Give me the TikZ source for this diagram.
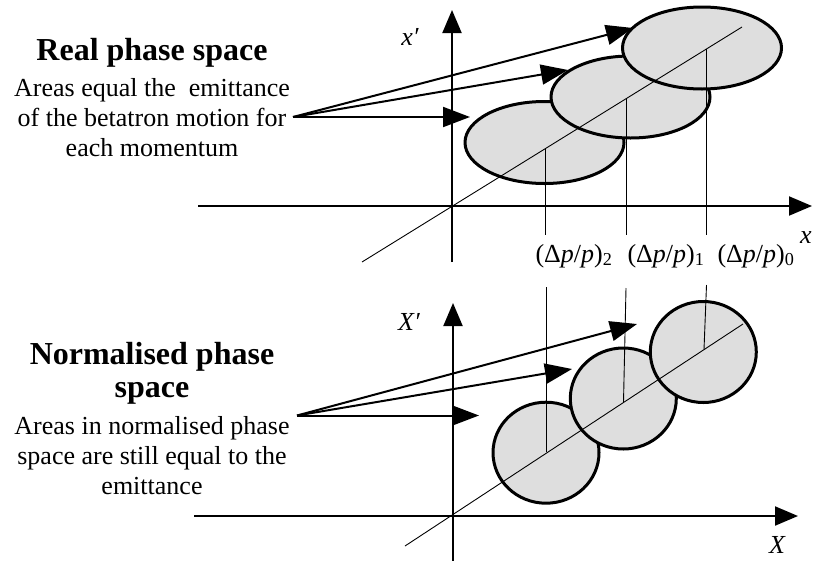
\documentclass[tikz,border=0pt]{standalone}
\usepackage{fontspec}
\setmainfont{Liberation Serif}
\usetikzlibrary{arrows.meta,positioning}

\definecolor{spotgrey}{RGB}{222,222,222}

\tikzset{
  axis/.style={line width=2pt, -{Triangle[length=23pt,width=19pt]}},
  pointer/.style={line width=2pt, -{Triangle[length=27pt,width=20pt]}},
  spot/.style={draw, fill=spotgrey, line width=3pt},
  guide/.style={line width=0.9pt},
  heading/.style={font=\fontsize{32}{33}\selectfont\bfseries, align=center},
  blurb/.style={font=\fontsize{26}{30}\selectfont, align=center},
  axlabel/.style={font=\fontsize{26}{30}\selectfont\itshape},
  momlabel/.style={font=\fontsize{26}{30}\selectfont}
}

\begin{document}
\begin{tikzpicture}[x=1pt, y=-1pt]
\useasboundingbox (0,0) rectangle (813,560);

% ---- real phase space ----
\node[heading] (realtitle) at (152,53) {Real phase space};
\node[blurb] (realtext) at (152,118) {Areas equal the\ \ emittance\\of the betatron motion for\\each momentum};

\draw[axis] (198,206) -- (812,206);
\draw[axis] (452,262) -- (452,10);
\node[axlabel] (xlab) at (806,238) {x};
\node[axlabel] (xplab) at (410,37) {x′};

\foreach \name/\cx/\cy in {e2/544.5/142.5, e1/630.5/97, e0/702/48}{
  \coordinate (\name) at (\cx,\cy);
  \draw[spot] (\name) ellipse [x radius=79.5, y radius=41];
}
\draw[guide] (362,262) -- (742,27);

\node[momlabel] (dp2) at (574,256) {(Δ\textit{p}/\textit{p})\textsubscript{2}};
\node[momlabel] (dp1) at (666,256) {(Δ\textit{p}/\textit{p})\textsubscript{1}};
\node[momlabel] (dp0) at (756,256) {(Δ\textit{p}/\textit{p})\textsubscript{0}};

\coordinate (r2) at (545,148.8);
\coordinate (r1) at (626,98.7);
\coordinate (r0) at (706.5,49);
\coordinate (rtick) at (0,235);
\foreach \p in {r2,r1,r0}
  \draw[guide] (\p) -- (\p |- rtick);

\coordinate (realfrom) at (293,117);
\coordinate (realto0) at (633,28);
\coordinate (realto1) at (568,70);
\coordinate (realto2) at (470,117);
\foreach \t in {realto0,realto1,realto2}
  \draw[pointer] (realfrom) -- (\t);

% ---- normalised phase space ----
\node[heading] (normtitle) at (152,373) {Normalised phase\\space};
\node[blurb] (normtext) at (152,456) {Areas in normalised phase\\space are still equal to the\\emittance};

\draw[axis] (194,516) -- (798,516);
\draw[axis] (453,565) -- (453,303);
\node[axlabel] (Xlab) at (777,545) {X};
\node[axlabel] (Xplab) at (409,322) {X′};

\foreach \name/\cx/\cy in {c2/546/452.7, c1/623.3/398.5, c0/703.3/352}{
  \coordinate (\name) at (\cx,\cy);
  \draw[spot] (\name) ellipse [x radius=53, y radius=50.5];
}
\draw[guide] (405,546) -- (743,324);

\coordinate (n2) at (546,287);
\coordinate (n1) at (626,288);
\coordinate (n0) at (706.5,285);
\coordinate (m2) at (546,452);
\coordinate (m1) at (623.5,402);
\coordinate (m0) at (704,349.5);
\foreach \i in {2,1,0}
  \draw[guide] (n\i) -- (m\i);

\coordinate (normfrom) at (297,415.5);
\coordinate (normto0) at (637,324);
\coordinate (normto1) at (572,369);
\coordinate (normto2) at (479,415.5);
\foreach \t in {normto0,normto1,normto2}
  \draw[pointer] (normfrom) -- (\t);

\end{tikzpicture}
\end{document}
